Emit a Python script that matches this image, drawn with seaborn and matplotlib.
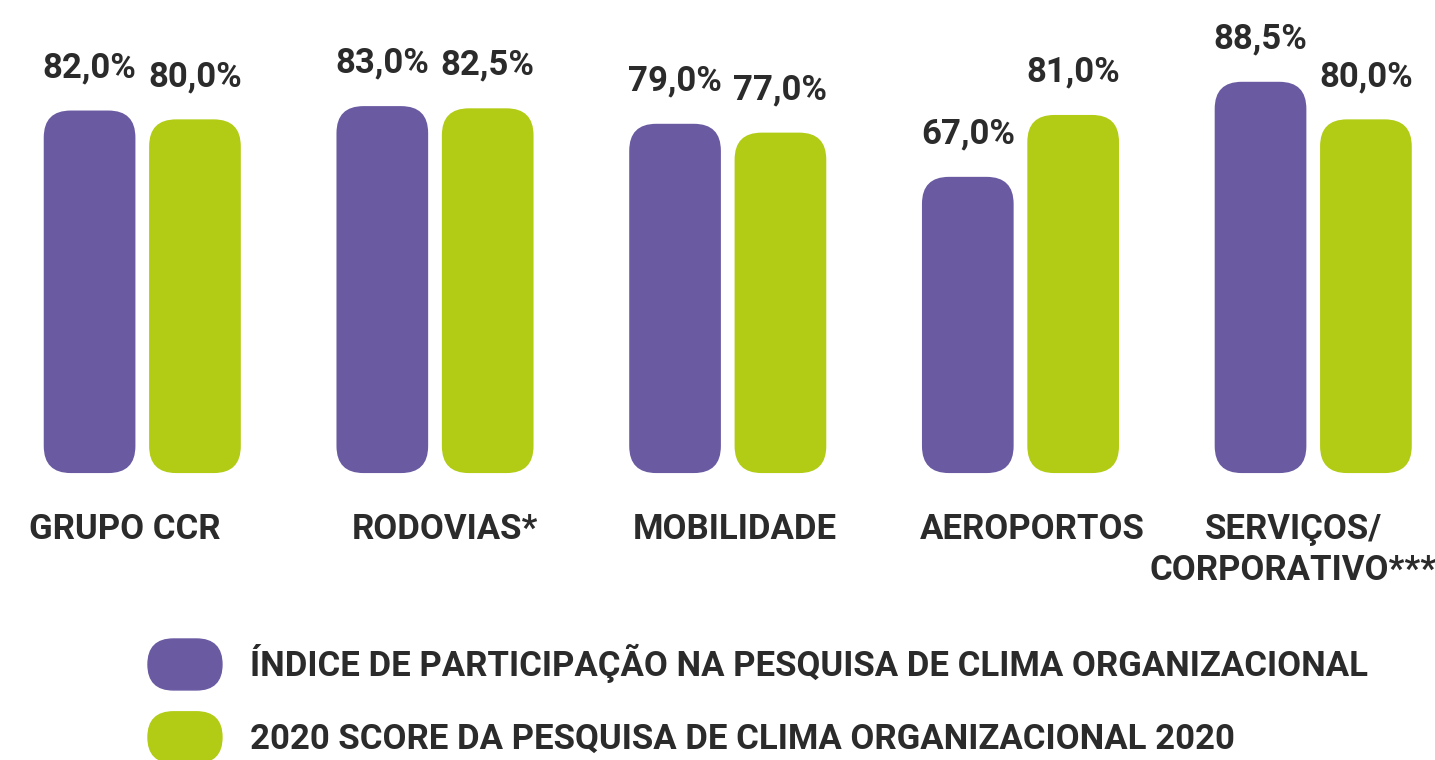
import numpy as np
import pandas as pd
import matplotlib
matplotlib.use('Agg')
import matplotlib.pyplot as plt
import matplotlib.patches as mpatches
import matplotlib.transforms as mtransforms
from matplotlib.legend_handler import HandlerPatch
import seaborn as sns

# data
categories = ['GRUPO CCR', 'RODOVIAS*', 'MOBILIDADE', 'AEROPORTOS', 'SERVIÇOS/\nCORPORATIVO***']
participacao = [82.0, 83.0, 79.0, 67.0, 88.5]
score = [80.0, 82.5, 77.0, 81.0, 80.0]
series_names = ['ÍNDICE DE PARTICIPAÇÃO NA PESQUISA DE CLIMA ORGANIZACIONAL',
                '2020 SCORE DA PESQUISA DE CLIMA ORGANIZACIONAL 2020']

PURPLE = '#6a5aa2'
GREEN = '#b2cb14'
TEXT = '#2b2b2b'

df = pd.DataFrame({
    'categoria': categories * 2,
    'serie': [series_names[0]] * len(categories) + [series_names[1]] * len(categories),
    'valor': participacao + score,
})

sns.set_style('white')
plt.rcParams['font.family'] = ['Roboto', 'DejaVu Sans']
plt.rcParams['font.weight'] = 'bold'

fig = plt.figure(figsize=(14.35, 7.6), dpi=100)
ax = fig.add_axes([0, 0, 1, 1])

sns.barplot(data=df, x='categoria', y='valor', hue='serie',
            palette={series_names[0]: PURPLE, series_names[1]: GREEN},
            saturation=1, width=0.72, gap=0.13, legend=False, ax=ax)

ax.set_xlim(-0.486, 4.416)
ax.set_ylim(-64.9, 107)

# px per data unit, used to keep the corner radius round
x_px = 1435 / (4.416 + 0.486)
y_px = 760 / (107 + 64.9)
radius = 27 / x_px

for cont in ax.containers:
    for bar in cont:
        x, y = bar.get_xy()
        w, h = bar.get_width(), bar.get_height()
        rounded = mpatches.FancyBboxPatch(
            (x, y), w, h,
            boxstyle=f'round,pad=0,rounding_size={radius}',
            mutation_aspect=x_px / y_px,
            facecolor=bar.get_facecolor(), edgecolor='none')
        ax.add_patch(rounded)
        bar.set_visible(False)
    vals = [b.get_height() for b in cont]
    ax.bar_label(cont, labels=[f'{v:.1f}'.replace('.', ',') + '%' for v in vals],
                 padding=19, fontsize=25, color=TEXT, fontweight='bold')

for s in ax.spines.values():
    s.set_visible(False)
ax.spines['bottom'].set_position(('data', 0))
ax.set_yticks([])
ax.tick_params(axis='x', length=0, pad=29, labelsize=25, labelcolor=TEXT)

# the labels in the original are not exactly centred under the groups (px)
label_shift = [-18, 10, 7, 12, -20]
for lab, dx in zip(ax.get_xticklabels(), label_shift):
    lab.set_fontweight('bold')
    lab.set_linespacing(1.3)
    lab.set_verticalalignment('top')
    lab.set_transform(lab.get_transform() +
                      mtransforms.ScaledTranslation(dx / 100, 0, fig.dpi_scale_trans))
ax.set_xlabel('')
ax.set_ylabel('')


def make_pill(legend, orig_handle, xdescent, ydescent, width, height, fontsize):
    return mpatches.FancyBboxPatch((-xdescent, -ydescent), width, height,
                                   boxstyle=f'round,pad=0,rounding_size={height / 2}')


handles = [mpatches.Patch(color=PURPLE, label=series_names[0]),
           mpatches.Patch(color=GREEN, label=series_names[1])]
fig.legend(handles=handles, loc='upper left', bbox_to_anchor=(148 / 1435, 1 - 639 / 760),
           frameon=False, prop={'size': 25, 'weight': 'bold'}, labelcolor=TEXT,
           handler_map={mpatches.Patch: HandlerPatch(patch_func=make_pill)},
           handlelength=2.13, handleheight=1.88, handletextpad=0.8,
           labelspacing=0.63, borderpad=0, borderaxespad=0)

fig.savefig('out.png', dpi=100, facecolor='white')
